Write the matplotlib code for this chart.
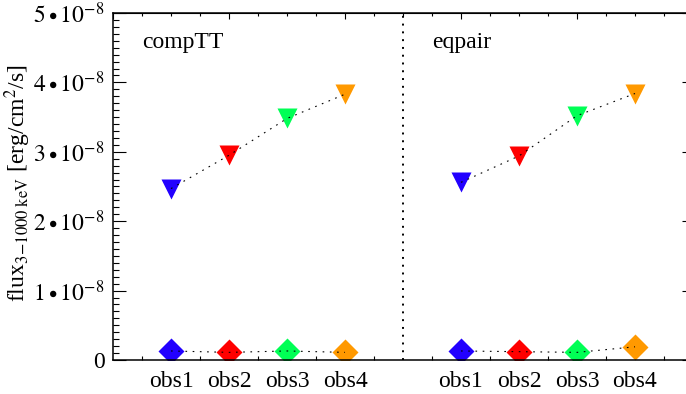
import numpy as np
import matplotlib as mpl
mpl.use("Agg")
import matplotlib.pyplot as plt
from matplotlib.ticker import MultipleLocator, FixedLocator, FuncFormatter

mpl.rcParams["font.family"] = "Liberation Serif"
mpl.rcParams["mathtext.fontset"] = "stix"

# data
obs = ["obs1", "obs2", "obs3", "obs4"]
colors = ["#2200ff", "#ff0000", "#00ff55", "#ff9900"]
models = ["compTT", "eqpair"]
x_pos = {"compTT": [1, 2, 3, 4], "eqpair": [6, 7, 8, 9]}
flux_tri = {"compTT": [2.47e-8, 2.95e-8, 3.48e-8, 3.83e-8],
            "eqpair": [2.56e-8, 2.94e-8, 3.52e-8, 3.84e-8]}
flux_dia = {"compTT": [0.13e-8, 0.11e-8, 0.13e-8, 0.11e-8],
            "eqpair": [0.13e-8, 0.12e-8, 0.11e-8, 0.19e-8]}

W, H = 686, 394
fig = plt.figure(figsize=(W / 100, H / 100), dpi=100)
# right spine sits just outside the picture, like the reference
ax = fig.add_axes([113 / W, 1 - 360 / H, (693 - 113) / W, (360 - 13) / H])
ax.set_xlim(0, 10)
ax.set_ylim(0, 5e-8)

for m in models:
    xs = x_pos[m]
    ax.plot(xs, flux_tri[m], ls=(0, (1.5, 5)), color="k", lw=0.8, zorder=3)
    ax.plot(xs, flux_dia[m], ls=(0, (1.5, 5)), color="k", lw=0.8, zorder=3)
    for x, yt, yd, c in zip(xs, flux_tri[m], flux_dia[m], colors):
        ax.plot(x, yt, marker="v", ms=14, color=c, mec="none", zorder=2)
        ax.plot(x, yd, marker="D", ms=13.5, color=c, mec="none", zorder=2)

ax.axvline(5, color="k", lw=1.4, ls=(0, (1, 3)))
ax.text(0.5, 4.5e-8, "compTT", fontsize=17, va="baseline")
ax.text(5.5, 4.5e-8, "eqpair", fontsize=17, va="baseline")

for s in ax.spines.values():
    s.set_linewidth(1.1)

# x axis: labels at obs, short ticks in between
ax.xaxis.set_major_locator(FixedLocator(x_pos["compTT"] + x_pos["eqpair"]))
ax.set_xticklabels(obs + obs, fontsize=17)
ax.xaxis.set_minor_locator(MultipleLocator(1, offset=0.5))
ax.tick_params(axis="x", which="major", length=0, pad=8)
ax.tick_params(axis="x", which="minor", direction="in", length=3, width=0.8,
               top=False)

# y axis
ax.yaxis.set_major_locator(MultipleLocator(1e-8))
ax.yaxis.set_minor_locator(MultipleLocator(1e-9))
ax.yaxis.set_major_formatter(FuncFormatter(
    lambda v, p: "0" if abs(v) < 1e-12 else rf"${v / 1e-8:.0f}\bullet10^{{-8}}$"))
ax.tick_params(axis="y", which="major", direction="in", length=9, width=0.8,
               labelsize=17, pad=6, right=False)
ax.tick_params(axis="y", which="minor", direction="in", length=4.5, width=0.8,
               right=False)
ax.set_ylabel(r"flux$_{\rm 3\!-\!1000\ keV}$ [erg/cm$^2$/s]", fontsize=17)
ax.yaxis.set_label_coords(-0.138, 0.51)

top = ax.secondary_xaxis("top")
top.xaxis.set_major_locator(MultipleLocator(2))
top.xaxis.set_minor_locator(MultipleLocator(0.5))
top.tick_params(which="major", direction="in", length=4.5, width=0.8,
                labeltop=False)
top.tick_params(which="minor", direction="in", length=2.5, width=0.8)

right = ax.secondary_yaxis("right")
right.yaxis.set_major_locator(MultipleLocator(1e-8))
right.tick_params(direction="in", length=8, width=0.8, labelright=False)

fig.savefig("out.png", dpi=100)
